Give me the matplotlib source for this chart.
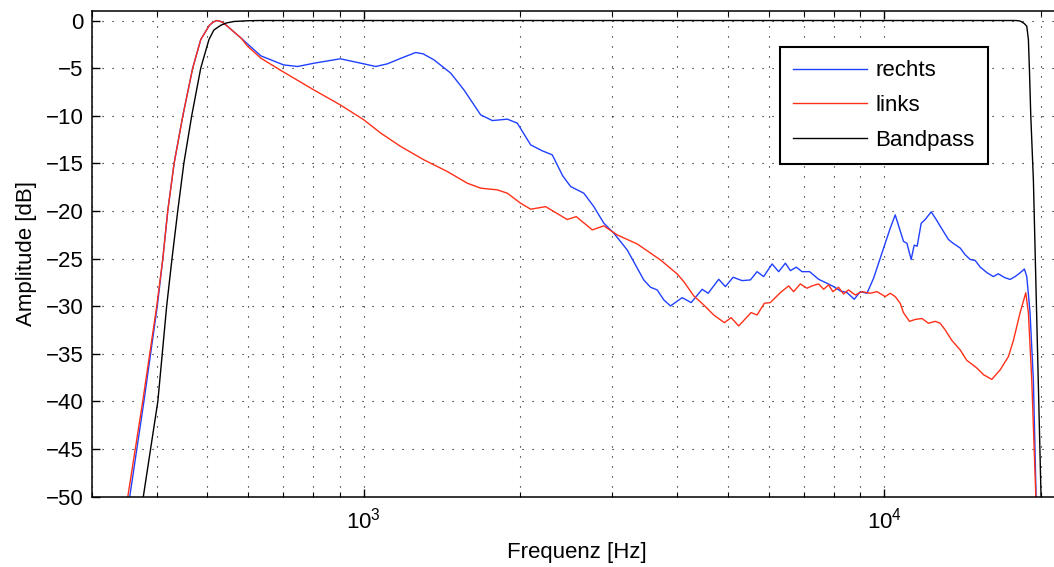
import matplotlib
matplotlib.use("Agg")
import matplotlib.pyplot as plt

# Werte (Frequenz in Hz, Amplitude in dB)
freq_rechts = [348, 355, 378, 401, 411, 420, 432, 449, 469, 486, 505, 514, 522, 531,
               539, 581, 634, 701, 746, 803, 901, 1000, 1054, 1110, 1180, 1258, 1300,
               1364, 1469, 1557, 1677, 1766, 1887, 1972, 2092, 2203, 2302, 2410,
               2497, 2647, 2767, 2892, 3023, 3207, 3451, 3556, 3662, 3771, 3884,
               4090, 4256, 4468, 4588, 4808, 4952, 5123, 5332, 5531, 5697, 5865,
               6088, 6268, 6457, 6601, 6778, 6950, 7188, 7479, 7762, 7992, 8232,
               8481, 8758, 8994, 9265, 9539, 9824, 10044, 10268, 10498, 10890,
               11055, 11266, 11416, 11568, 11776, 11987, 12309, 12585, 12809, 13285,
               13563, 13993, 14306, 14627, 14953, 15288, 15767, 16211, 16551, 17032,
               17450, 17840, 18239, 18590, 18789, 19063, 19346, 19574, 19705]
db_rechts = [-55, -50, -40, -30, -25, -20, -15, -10, -5, -2, -0.5, -0.15, 0, -0.1,
             -0.3, -1.85, -3.71, -4.66, -4.83, -4.48, -4.02, -4.55, -4.83, -4.55,
             -3.95, -3.36, -3.5, -4.13, -5.53, -7.28, -9.91, -10.51, -10.36, -10.78,
             -13.06, -13.69, -14.11, -16.3, -17.44, -18.14, -19.55, -21.29, -22.34,
             -24.10, -27.25, -28.02, -28.30, -29.35, -29.98, -29.11, -29.63, -28.23,
             -28.65, -27.18, -27.95, -26.97, -27.32, -27.25, -26.38, -26.90, -25.57,
             -26.38, -25.49, -26.27, -25.91, -26.38, -26.38, -27.18, -27.60, -27.95,
             -28.40, -28.58, -29.28, -28.48, -28.65, -27.07, -24.97, -23.39, -21.82,
             -20.42, -23.2, -23.4, -25.1, -23.6, -23.7, -21.3, -20.9, -20.1, -20.9,
             -21.6, -23.0, -23.4, -23.9, -24.6, -25.1, -25.2, -25.9, -26.5, -26.9,
             -26.6, -27.0, -27.2, -26.9, -26.5, -26.1, -26.9, -30.7, -37.8, -49.8,
             -55]

freq_links = [345, 352, 376, 400, 411, 420, 432, 449, 469, 486, 505, 514, 522, 531,
              539, 581, 598, 634, 693, 801, 901, 1000, 1078, 1178, 1305, 1448, 1581,
              1677, 1806, 1887, 2001, 2092, 2235, 2459, 2560, 2748, 2892, 3068,
              3352, 3716, 4001, 4120, 4306, 4500, 4703, 4930, 5078, 5252, 5548,
              5697, 5884, 6041, 6316, 6551, 6697, 6899, 7105, 7264, 7479, 7647,
              7818, 7968, 8168, 8351, 8538, 8797, 9063, 9400, 9683, 10044, 10268,
              10498, 10732, 10890, 11184, 11468, 11815, 12162, 12528, 12809, 13095,
              13487, 13993, 14412, 15064, 15511, 16096, 16698, 17322, 17710, 18239,
              18706, 18923, 19208, 19552, 19665]
db_links = [-55, -50, -40, -30, -25, -20, -15, -10, -5, -2, -0.5, -0.15, 0, -0.1,
            -0.3, -1.85, -2.7, -3.95, -5.25, -7.28, -8.86, -10.43, -11.83, -13.24,
            -14.64, -15.87, -17.09, -17.61, -17.79, -18.14, -19.19, -19.82, -19.55,
            -20.9, -20.6, -21.99, -21.57, -22.52, -23.47, -25.15, -26.62, -27.43,
            -28.93, -29.88, -30.93, -31.74, -31.21, -32.08, -30.68, -30.93, -29.70,
            -29.63, -28.58, -27.88, -28.48, -27.67, -28.12, -27.88, -27.67, -28.23,
            -27.77, -28.48, -28.02, -28.72, -28.30, -28.83, -28.48, -28.65, -28.48,
            -29.0, -28.65, -29.0, -29.7, -30.7, -31.6, -31.4, -31.3, -31.8, -31.6,
            -31.8, -32.5, -33.6, -34.6, -35.7, -36.5, -37.2, -37.7, -36.7, -35.3,
            -33.6, -30.7, -28.6, -30.7, -37.8, -49.8, -55]

freq_bandpass = [372, 377, 402, 418, 428, 439, 451, 467, 486, 504, 515, 531, 545, 563,
                 600, 634, 17900, 18239, 18565, 18789, 18923, 19006, 19124, 19346,
                 19610, 20012, 20100]
db_bandpass = [-55, -50, -40, -30, -25, -20, -15, -10, -5, -2, -1, -0.5, -0.25, -0.1,
               -0.02, 0, 0, -0.05, -0.3, -0.6, -2, -5, -10, -16.75, -30, -50, -55]

plt.rcParams['font.family'] = ['Liberation Sans', 'DejaVu Sans']
plt.rcParams['mathtext.fontset'] = 'custom'
plt.rcParams['mathtext.rm'] = 'Liberation Sans'
plt.rcParams['mathtext.it'] = 'Liberation Sans'

fig = plt.figure(figsize=(10.54, 5.67), dpi=100)
ax = fig.add_axes([0.087, 0.1243, 0.9215, 0.8563])

ax.semilogx(freq_rechts, db_rechts, color='#2040ff', lw=1.0, label='rechts')
ax.semilogx(freq_links, db_links, color='#ff3018', lw=1.0, label='links')
ax.semilogx(freq_bandpass, db_bandpass, color='black', lw=1.0, label='Bandpass')

ax.set_xlim(300, 22050)
ax.set_ylim(-50, 1)
ax.set_yticks(range(-50, 1, 5))

ax.grid(True, which='major', axis='both', color='black', lw=0.8, ls=(0, (1, 8)))
ax.grid(True, which='minor', axis='x', color='black', lw=0.8, ls=(0, (1, 8)))

ax.tick_params(which='both', direction='in', top=True, right=True, labelsize=16)
ax.tick_params(which='major', length=6, width=1.0)
ax.tick_params(which='minor', length=3.5, width=0.8)
ax.tick_params(axis='x', which='major', pad=8)
ax.tick_params(axis='y', which='major', pad=6)
for s in ax.spines.values():
    s.set_linewidth(1.1)

ax.set_xlabel('Frequenz [Hz]', fontsize=16, labelpad=6)
ax.set_ylabel('Amplitude [dB]', fontsize=16, labelpad=6)

leg = ax.legend(loc='upper right', bbox_to_anchor=(988 / 1054, 1 - 47 / 567),
                bbox_transform=fig.transFigure, borderaxespad=0, fontsize=16,
                fancybox=False, framealpha=1, edgecolor='black',
                handlelength=3.3, handletextpad=0.4, labelspacing=0.62,
                borderpad=0.6)
leg.get_frame().set_linewidth(1.5)

fig.savefig('out.png', dpi=100)
